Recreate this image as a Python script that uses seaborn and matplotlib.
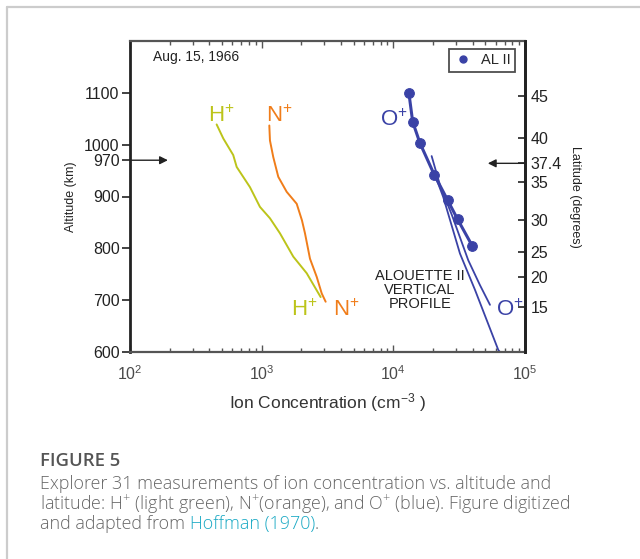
import matplotlib
matplotlib.use("Agg")
import matplotlib.pyplot as plt
from matplotlib.lines import Line2D
import seaborn as sns
import numpy as np

# ---------------- data ----------------
h_conc = [455, 511, 608, 646, 815, 970, 1156, 1377, 1738, 2198, 2805]
h_alt = [1039, 1012, 980, 957, 918, 880, 858, 829, 784, 752, 706]

n_conc = [1143, 1156, 1225, 1337, 1549, 1845, 2023, 2133, 2328, 2618, 2858, 3062]
n_alt = [1037, 1008, 976, 938, 909, 886, 854, 829, 780, 745, 713, 697]

al2_conc = [13120, 14030, 15930, 20460, 25840, 30770, 39720]
al2_alt = [1100, 1044, 1003, 942, 893, 856, 805]

o_prof_conc = [19540, 22600, 27870, 37070, 45500, 54200]
o_prof_alt = [978, 922, 864, 777, 729, 691]

o_fit_conc = [20320, 23930, 32060, 41690, 62660, 64500]
o_fit_alt = [947, 899, 790, 720, 604, 600]

alt_ticks = [600, 700, 800, 900, 970, 1000, 1100]
lat_labels = ['45', '40', '37.4', '35', '30', '25', '20', '15']
lat_alt = [1094, 1013, 964, 928, 854, 792, 744, 686]

# ---------------- style ----------------
sns.set_theme(style="ticks")
plt.rcParams['font.family'] = ['Liberation Sans', 'DejaVu Sans']
plt.rcParams['mathtext.fontset'] = 'custom'
plt.rcParams['mathtext.rm'] = 'Liberation Sans'
plt.rcParams['mathtext.it'] = 'Liberation Sans:italic'

GREEN = '#bcc41a'
ORANGE = '#f07d1a'
BLUE = '#3a42a6'

fig = plt.figure(figsize=(6.4, 5.59), dpi=100)
fig.patch.set_facecolor('white')
ax = fig.add_axes([130/640, 1-352/559, 395/640, 311/559])

sns.lineplot(x=h_conc, y=h_alt, sort=False, estimator=None, color=GREEN, lw=1.4, ax=ax)
sns.lineplot(x=n_conc, y=n_alt, sort=False, estimator=None, color=ORANGE, lw=1.4, ax=ax)
sns.lineplot(x=o_prof_conc, y=o_prof_alt, sort=False, estimator=None, color=BLUE, lw=1.3, ax=ax)
sns.lineplot(x=o_fit_conc, y=o_fit_alt, sort=False, estimator=None, color=BLUE, lw=1.3, ax=ax)
sns.lineplot(x=al2_conc, y=al2_alt, sort=False, estimator=None, color=BLUE, lw=2.2,
             marker='o', markersize=7, markeredgecolor=BLUE, ax=ax)

ax.set_xscale('log')
ax.set_xlim(1e2, 1e5)
ax.set_ylim(600, 1200)
ax.set_yticks(alt_ticks)
ax.set_yticklabels([str(v) for v in alt_ticks])
ax.set_xticks([1e2, 1e3, 1e4, 1e5])

ax.tick_params(axis='y', which='both', direction='out', length=6, width=1.2,
               labelsize=11.5, pad=1.5, colors='#222222')
ax.tick_params(axis='x', which='major', direction='in', length=5, width=1.0,
               top=True, labelsize=11.5, pad=9, colors='#555555', labelcolor='#4a4a4a')
ax.tick_params(axis='x', which='minor', direction='in', length=3, width=1.0,
               top=True, colors='#555555')

for side in ['left', 'right']:
    ax.spines[side].set_linewidth(2.0)
    ax.spines[side].set_color('#222222')
for side in ['top', 'bottom']:
    ax.spines[side].set_linewidth(1.6)
    ax.spines[side].set_color('#555555')
    ax.spines[side].set_visible(True)

ax.set_xlabel('Ion Concentration (cm$^{\\mathregular{-3}}$ )', fontsize=12.5,
              color='#333333', labelpad=6)
ax.set_ylabel('Altitude (km)', fontsize=9, color='#222222', labelpad=5)

# right latitude axis
ax2 = ax.twinx()
ax2.set_ylim(600, 1200)
ax2.set_yticks(lat_alt)
ax2.set_yticklabels(lat_labels)
ax2.tick_params(axis='y', direction='in', length=5, width=1.2, labelsize=11.5,
                pad=4, colors='#222222')
ax2.spines['right'].set_linewidth(2.0)
ax2.spines['right'].set_color('#222222')
for side in ['left', 'top', 'bottom']:
    ax2.spines[side].set_visible(False)
ax2.set_ylabel('Latitude (degrees)', fontsize=9, rotation=-90, labelpad=14, color='#222222')

# annotations
ax.text(0.058, 0.949, 'Aug. 15, 1966', transform=ax.transAxes, fontsize=10,
        ha='left', va='center', color='#222222')
lab_kw = dict(fontsize=16, ha='center', va='center')
ax.text(497, 1055, 'H$\\mathregular{^{+}}$', color=GREEN, **lab_kw)
ax.text(1365, 1055, 'N$\\mathregular{^{+}}$', color=ORANGE, **lab_kw)
ax.text(2113, 681, 'H$\\mathregular{^{+}}$', color=GREEN, **lab_kw)
ax.text(4365, 681, 'N$\\mathregular{^{+}}$', color=ORANGE, **lab_kw)
ax.text(10070, 1047, 'O$\\mathregular{^{+}}$', color=BLUE, **lab_kw)
ax.text(76400, 681, 'O$\\mathregular{^{+}}$', color=BLUE, **lab_kw)
ax.text(15900, 719, 'ALOUETTE II\nVERTICAL\nPROFILE', fontsize=10.5, ha='center', va='center',
        linespacing=1.0, color='#222222')

arrow_kw = dict(arrowstyle='-|>', color='#222222', lw=1.0, mutation_scale=12,
                shrinkA=0, shrinkB=0)
ax.annotate('', xy=(194, 970), xytext=(1e2, 970), arrowprops=arrow_kw, annotation_clip=False)
ax.annotate('', xy=(52200, 964), xytext=(1e5, 964), arrowprops=arrow_kw, annotation_clip=False)

handle = Line2D([], [], marker='o', ls='none', color=BLUE, markersize=5)
leg = ax.legend(handles=[handle], labels=['AL II'], loc='upper right',
                bbox_to_anchor=(0.975, 0.974), borderaxespad=0, fontsize=10.5,
                frameon=True, fancybox=False, handlelength=1.3, handletextpad=0.6,
                borderpad=0.3)
leg.get_frame().set_edgecolor('#222222')
leg.get_frame().set_linewidth(1.3)

# card border
fig.add_artist(Line2D([7/640, 7/640], [1-7/559, 0], transform=fig.transFigure,
                      color='#cccccc', lw=1.6))
fig.add_artist(Line2D([7/640, 1], [1-7/559, 1-7/559], transform=fig.transFigure,
                      color='#cccccc', lw=1.6))

# caption
cap_font = ['Open Sans', 'DejaVu Sans']
CAP = 12.9
CW = 'light'
fig.text(40/640, 1-461/559, 'FIGURE 5', fontsize=13.3, color='#555555',
         family=cap_font, weight='semibold', va='center', ha='left')
fig.text(40/640, 1-484/559, 'Explorer 31 measurements of ion concentration vs. altitude and',
         fontsize=CAP, color='#666666', family=cap_font, weight=CW, va='center', ha='left')
fig.text(40/640, 1-504/559,
         'latitude: H$\\mathregular{^{+}}$ (light green), N$\\mathregular{^{+}}$(orange), and O$\\mathregular{^{+}}$ (blue). Figure digitized',
         fontsize=CAP, color='#666666', family=cap_font, weight=CW, va='center', ha='left')
t1 = fig.text(40/640, 1-524/559, 'and adapted from ', fontsize=CAP, color='#666666',
              family=cap_font, weight=CW, va='center', ha='left')
fig.canvas.draw()
r = fig.canvas.get_renderer()
bb = t1.get_window_extent(renderer=r)
t2 = fig.text(bb.x1/640, 1-524/559, 'Hoffman (1970)', fontsize=CAP, color='#1aa9c4',
              family=cap_font, weight=CW, va='center', ha='left')
bb2 = t2.get_window_extent(renderer=r)
fig.text(bb2.x1/640, 1-524/559, '.', fontsize=CAP, color='#666666',
         family=cap_font, weight=CW, va='center', ha='left')

fig.savefig('out.png', dpi=100)
